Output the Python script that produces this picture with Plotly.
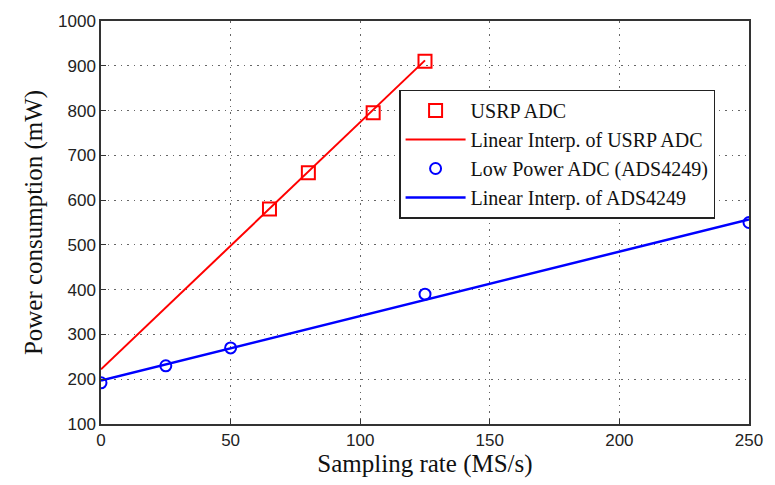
import plotly.graph_objects as go

# Data
usrp_x = [65, 80, 105, 125]
usrp_y = [580, 661, 795, 910]
usrp_fit_x = [0, 125]
usrp_fit_y = [222, 912]

ads_x = [0, 25, 50, 125, 250]
ads_y = [192, 230, 270, 390, 550]
ads_fit_x = [0, 250]
ads_fit_y = [197, 557]

x_ticks = [0, 50, 100, 150, 200, 250]
y_ticks = [100, 200, 300, 400, 500, 600, 700, 800, 900, 1000]

RED = "#ff0000"
BLUE = "#0000ff"
SERIF = "Liberation Serif, Times New Roman, serif"
SANS = "Liberation Sans Narrow, Arial Narrow, Liberation Sans, Arial, sans-serif"

fig = go.Figure()
fig.add_trace(go.Scatter(x=usrp_x, y=usrp_y, mode="markers", name="USRP ADC",
                         marker=dict(symbol="square-open", size=13, color=RED,
                                     line=dict(width=2, color=RED))))
fig.add_trace(go.Scatter(x=usrp_fit_x, y=usrp_fit_y, mode="lines",
                         name="Linear Interp. of USRP ADC",
                         line=dict(color=RED, width=2)))
fig.add_trace(go.Scatter(x=ads_x, y=ads_y, mode="markers",
                         name="Low Power ADC (ADS4249)",
                         marker=dict(symbol="circle-open", size=11, color=BLUE,
                                     line=dict(width=2, color=BLUE))))
fig.add_trace(go.Scatter(x=ads_fit_x, y=ads_fit_y, mode="lines",
                         name="Linear Interp. of ADS4249",
                         line=dict(color=BLUE, width=2.5)))

axis_common = dict(
    showline=True, linecolor="#333333", linewidth=1.5, mirror=True,
    showgrid=True, gridcolor="#666666", griddash="1.5px,5px", gridwidth=1.2,
    ticks="inside", ticklen=5, tickcolor="#333333",
    tickfont=dict(family=SANS, size=17, color="#222222"),
    zeroline=False,
)

fig.update_xaxes(range=[0, 250], tickvals=x_ticks,
                 title=dict(text="Sampling rate (MS/s)",
                            font=dict(family=SERIF, size=25, color="#111111"),
                            standoff=2),
                 **axis_common)
fig.update_yaxes(range=[100, 1000], tickvals=y_ticks,
                 title=dict(text="Power consumption (mW)",
                            font=dict(family=SERIF, size=25, color="#111111"),
                            standoff=8),
                 **axis_common)

fig.update_layout(
    width=775, height=485,
    margin=dict(l=101, r=26, t=18, b=61),
    paper_bgcolor="white", plot_bgcolor="white",
    legend=dict(x=0.46, y=0.83, xanchor="left", yanchor="top",
                bgcolor="white", bordercolor="#222222", borderwidth=1.5,
                font=dict(family=SERIF, size=20, color="#111111"),
                itemwidth=60, tracegroupgap=0),
    showlegend=True,
)

fig.write_html("out.html")
